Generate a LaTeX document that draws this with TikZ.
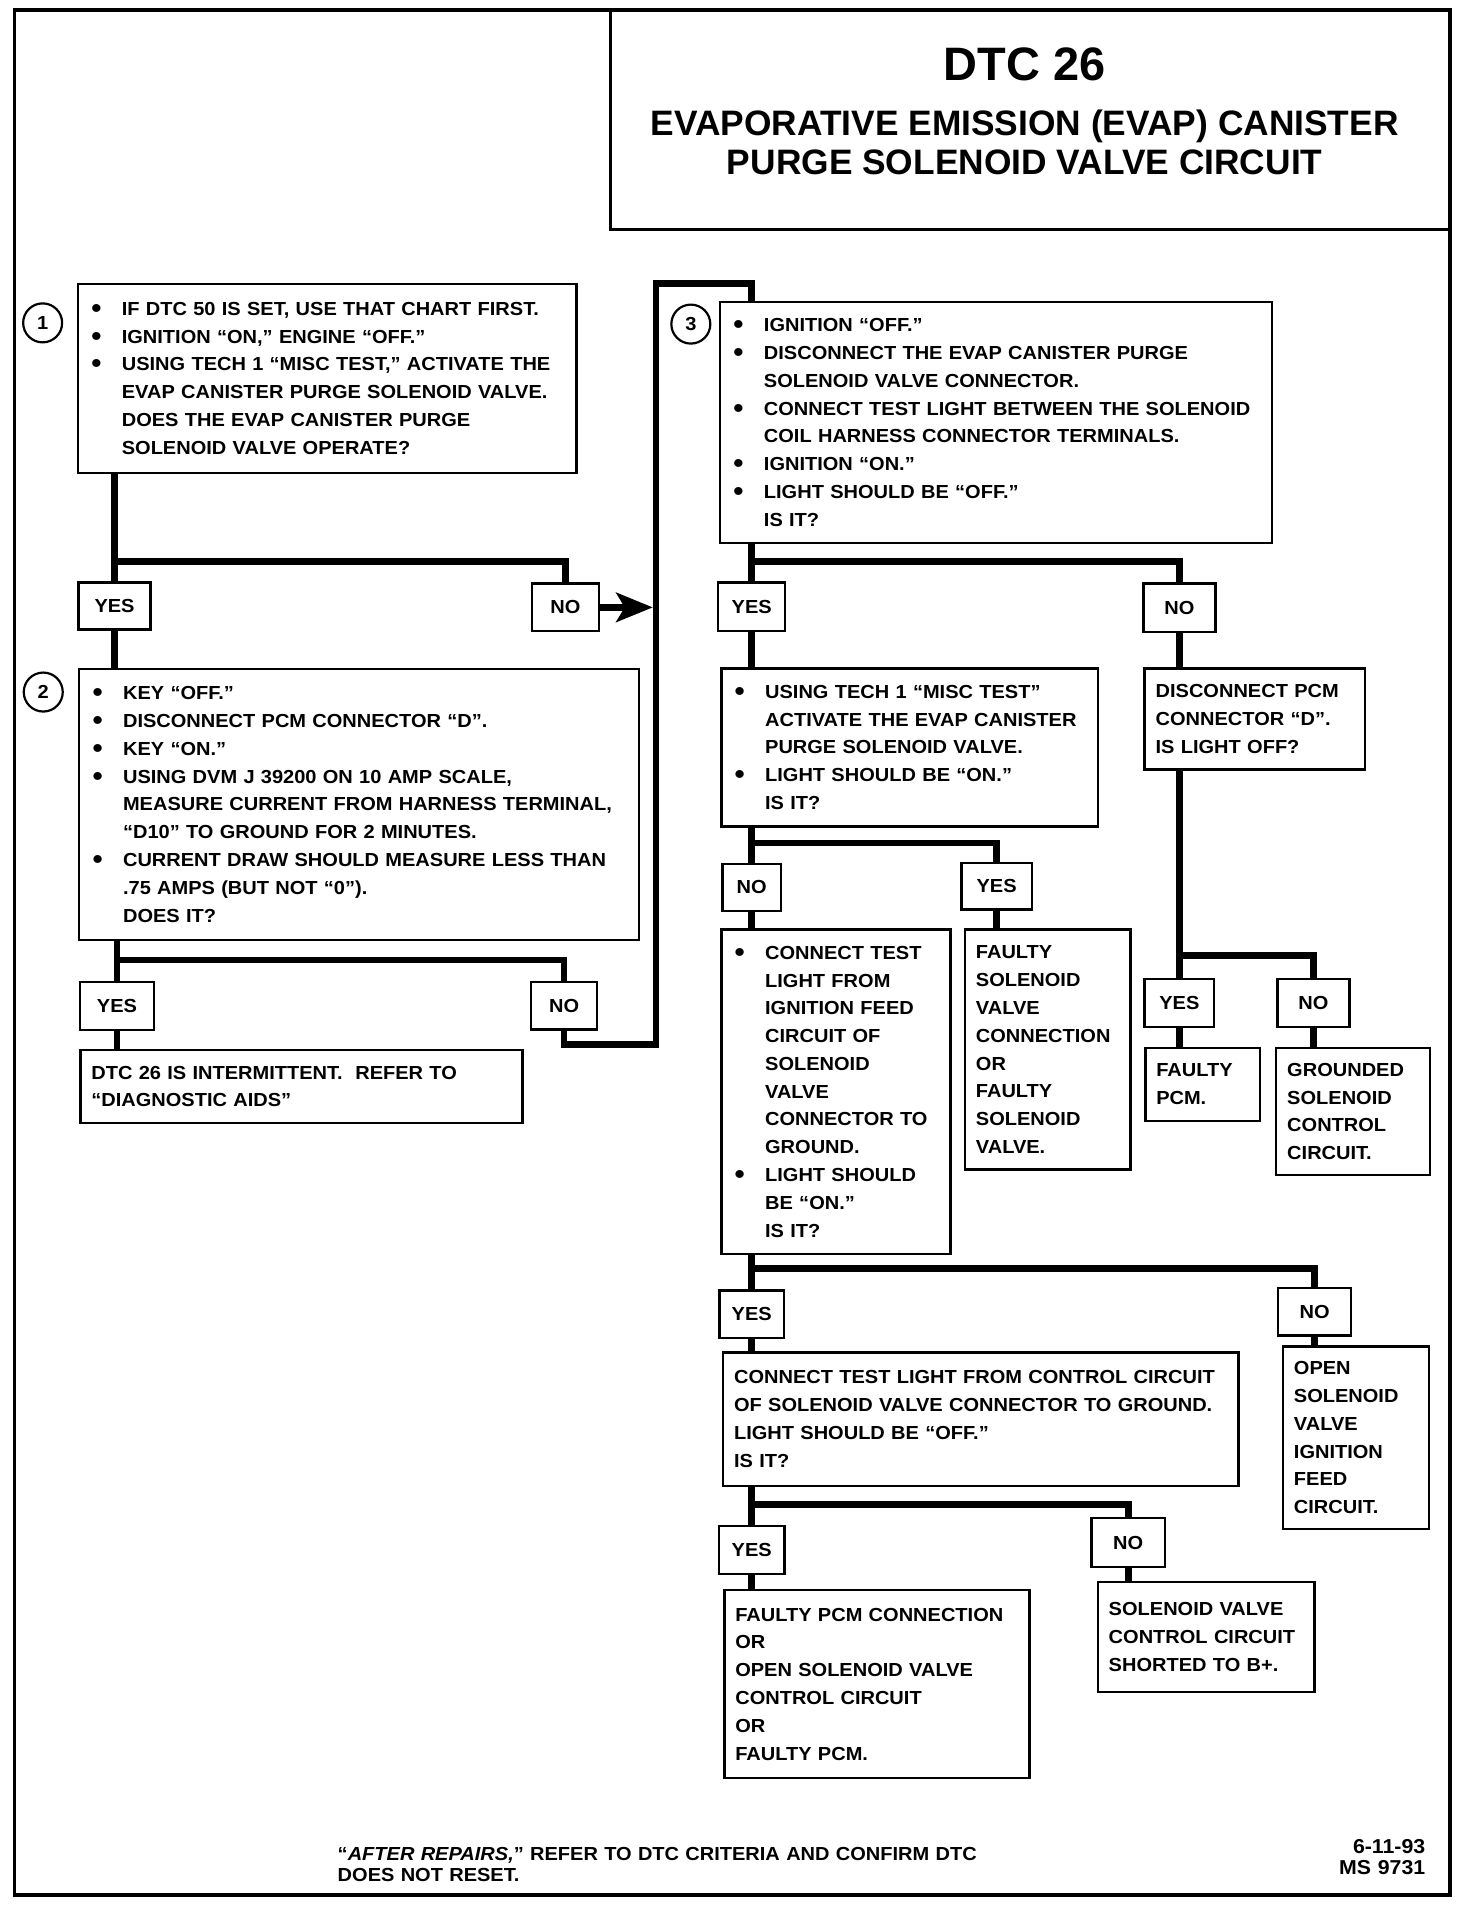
\documentclass[tikz,border=0pt]{standalone}
\usepackage{fontspec}
\setmainfont{Liberation Sans}[FakeStretch=1.06]
\newfontfamily\titlefont{Liberation Sans}
\usepackage{tikz}
\usetikzlibrary{arrows.meta}
\setlength{\parindent}{0pt}
\newcommand{\bline}[1]{\makebox[27pt][l]{\hspace{2pt}\raisebox{-1.6pt}{\scalebox{1.45}{\textbullet}}}\mbox{#1}}
\newcommand{\iline}[1]{\hspace*{27pt}\mbox{#1}}
\newcommand{\pline}[1]{\mbox{#1}}

\begin{document}
\begin{tikzpicture}[x=1pt, y=-1pt,
    txt/.style={font=\fontsize{15.5}{22.8}\selectfont\bfseries},
    box/.style={txt, draw, line width=2pt, anchor=north west, inner xsep=9pt, inner ysep=0pt, align=left},
    yn/.style={txt, draw, line width=2pt, anchor=north west, inner sep=0pt},
    num/.style={txt, circle, draw, line width=1.8pt, minimum size=32pt, inner sep=0pt},
    conn/.style={line width=5.5pt}]
    \useasboundingbox (0,0) rectangle (1208,1566);

    % Frame and title
    \draw[line width=3pt] (12,8) rectangle (1190,1555.5);
    \draw[line width=2.5pt] (501,8) rectangle (1190,188);
    \node[anchor=north, text width=680pt, align=center, inner sep=0pt] (title) at (841,39)
        {\titlefont\bfseries\fontsize{38.5}{38.5}\selectfont\spaceskip=0pt\xspaceskip=0pt \mbox{DTC 26}\par\vspace{12pt}
         \fontsize{29}{33}\selectfont\spaceskip=0pt\xspaceskip=0pt \mbox{EVAPORATIVE EMISSION (EVAP) CANISTER}\par\vspace{5pt}
         \mbox{PURGE SOLENOID VALVE CIRCUIT}};

    % Left column nodes
    \path
    (63,232) node[box, text width=391pt, minimum height=155pt] (q1)
        {\bline{IF DTC 50 IS SET, USE THAT CHART FIRST.}\\
         \bline{IGNITION “ON,” ENGINE “OFF.”}\\
         \bline{USING TECH 1 “MISC TEST,” ACTIVATE THE}\\
         \iline{EVAP CANISTER PURGE SOLENOID VALVE.}\\
         \iline{DOES THE EVAP CANISTER PURGE}\\
         \iline{SOLENOID VALVE OPERATE?}}
    (63.5,477) node[yn, minimum width=59pt, minimum height=38.5pt] (y1) {YES}
    (435.5,478) node[yn, minimum width=55pt, minimum height=39pt] (n1) {NO}
    (64,548) node[box, text width=441.5pt, minimum height=222.5pt] (q2)
        {\bline{KEY “OFF.”}\\
         \bline{DISCONNECT PCM CONNECTOR “D”.}\\
         \bline{KEY “ON.”}\\
         \bline{USING DVM J 39200 ON 10 AMP SCALE,}\\
         \iline{MEASURE CURRENT FROM HARNESS TERMINAL,}\\
         \iline{“D10” TO GROUND FOR 2 MINUTES.}\\
         \bline{CURRENT DRAW SHOULD MEASURE LESS THAN}\\
         \iline{.75 AMPS (BUT NOT “0”).}\\
         \iline{DOES IT?}}
    (64.5,805) node[yn, minimum width=61pt, minimum height=39.5pt] (y2) {YES}
    (435,805) node[yn, minimum width=54pt, minimum height=39pt] (n2) {NO}
    (65,861) node[box, text width=345pt, minimum height=59.5pt] (r1)
        {\pline{DTC 26 IS INTERMITTENT.\ \ REFER TO}\\
         \pline{“DIAGNOSTIC AIDS”}}
    ;

    % Step numbers
    \node[num] (c1) at (35,265) {1};
    \node[num] (c2) at (35.5,568) {2};
    \node[num] (c3) at (567,266) {3};

    % Right column nodes
    \path
    (590,247) node[box, text width=435pt, minimum height=197.5pt] (q3)
        {\bline{IGNITION “OFF.”}\\
         \bline{DISCONNECT THE EVAP CANISTER PURGE}\\
         \iline{SOLENOID VALVE CONNECTOR.}\\
         \bline{CONNECT TEST LIGHT BETWEEN THE SOLENOID}\\
         \iline{COIL HARNESS CONNECTOR TERMINALS.}\\
         \bline{IGNITION “ON.”}\\
         \bline{LIGHT SHOULD BE “OFF.”}\\
         \iline{IS IT?}}
    (588.5,477) node[yn, minimum width=55pt, minimum height=40pt] (y3) {YES}
    (937.5,478) node[yn, minimum width=59pt, minimum height=39.5pt] (n3) {NO}
    (591,547.5) node[box, text width=291pt, minimum height=130pt] (q4)
        {\bline{USING TECH 1 “MISC TEST”}\\
         \iline{ACTIVATE THE EVAP CANISTER}\\
         \iline{PURGE SOLENOID VALVE.}\\
         \bline{LIGHT SHOULD BE “ON.”}\\
         \iline{IS IT?}}
    (938.5,547.5) node[box, text width=163pt, minimum height=83pt] (q5)
        {\pline{DISCONNECT PCM}\\
         \pline{CONNECTOR “D”.}\\
         \pline{IS LIGHT OFF?}}
    (592,708) node[yn, minimum width=48pt, minimum height=38.5pt] (n4) {NO}
    (788,707.5) node[yn, minimum width=58pt, minimum height=38pt] (y4) {YES}
    (591,762) node[box, text width=170pt, minimum height=266pt] (q6)
        {\bline{CONNECT TEST}\\
         \iline{LIGHT FROM}\\
         \iline{IGNITION FEED}\\
         \iline{CIRCUIT OF}\\
         \iline{SOLENOID}\\
         \iline{VALVE}\\
         \iline{CONNECTOR TO}\\
         \iline{GROUND.}\\
         \bline{LIGHT SHOULD}\\
         \iline{BE “ON.”}\\
         \iline{IS IT?}}
    (791,762) node[box, text width=118pt, minimum height=197pt] (r2)
        {FAULTY\\ SOLENOID\\ VALVE\\ CONNECTION\\ OR\\ FAULTY\\ SOLENOID\\ VALVE.}
    (938.5,802.5) node[yn, minimum width=57pt, minimum height=39.5pt] (y5) {YES}
    (1047.5,802.5) node[yn, minimum width=59pt, minimum height=39.5pt] (n5) {NO}
    (939,859) node[box, text width=76pt, minimum height=60pt] (r3)
        {FAULTY\\ PCM.}
    (1046.5,859) node[box, text width=108pt, minimum height=104.5pt] (r4)
        {GROUNDED\\ SOLENOID\\ CONTROL\\ CIRCUIT.}
    (589.5,1058) node[yn, minimum width=53pt, minimum height=39pt] (y6) {YES}
    (1048,1056) node[yn, minimum width=60pt, minimum height=39pt] (n6) {NO}
    (1052,1104) node[box, text width=102pt, minimum height=150pt] (r5)
        {OPEN\\ SOLENOID\\ VALVE\\ IGNITION\\ FEED\\ CIRCUIT.}
    (592.5,1109) node[box, text width=405pt, minimum height=109.5pt] (q7)
        {\pline{CONNECT TEST LIGHT FROM CONTROL CIRCUIT}\\
         \pline{OF SOLENOID VALVE CONNECTOR TO GROUND.}\\
         \pline{LIGHT SHOULD BE “OFF.”}\\
         \pline{IS IT?}}
    (589,1251.5) node[yn, minimum width=54pt, minimum height=39.5pt] (y7) {YES}
    (895,1245) node[yn, minimum width=60pt, minimum height=40pt] (n7) {NO}
    (593.5,1304) node[box, text width=232.5pt, minimum height=154.5pt] (r6)
        {\pline{FAULTY PCM CONNECTION}\\ OR\\
         \pline{OPEN SOLENOID VALVE}\\
         \pline{CONTROL CIRCUIT}\\ OR\\
         \pline{FAULTY PCM.}}
    (900,1297.5) node[box, text width=160pt, minimum height=90pt] (r7)
        {\pline{SOLENOID VALVE}\\
         \pline{CONTROL CIRCUIT}\\
         \pline{SHORTED TO B+.}}
    ;

    % Footer
    \node[txt, font=\fontsize{15.5}{17.3}\selectfont\bfseries, anchor=north west, text width=560pt, align=left, inner sep=0pt] (foot) at (277,1516)
        {“\textit{AFTER REPAIRS,}” REFER TO DTC CRITERIA AND CONFIRM DTC\\ DOES NOT RESET.};
    \node[font=\fontsize{16.5}{17.5}\selectfont\bfseries, anchor=north east, text width=100pt, align=right, inner sep=0pt] (date) at (1170,1509.5)
        {6-11-93\\ MS 9731};

    % Bar heights and the long return line
    \coordinate (b1) at (0,461);
    \coordinate (b2) at (0,788);
    \coordinate (b3) at (0,461);
    \coordinate (b4) at (0,692);
    \coordinate (b5) at (0,784);
    \coordinate (b6) at (0,1041);
    \coordinate (b7) at (0,1235);
    \coordinate (railb) at (538.5,857.5);
    \coordinate (railt) at (538.5,232.5);
    \coordinate (nohit) at (535.8,0);

    % Step 1 edges
    \draw[conn] (q1.south -| y1.north) -- (y1.north);
    \draw[conn] (y1.north |- b1) -| (n1.north);
    \draw[conn] (y1.south) -- (q2.north -| y1.south);
    \draw[conn, -{Stealth[length=30pt, width=24pt, inset=7pt]}] (n1.east) -- (n1.east -| nohit);

    % Step 2 edges
    \draw[conn] (q2.south -| y2.north) -- (y2.north);
    \draw[conn] (y2.north |- b2) -| (n2.north);
    \draw[conn] (y2.south) -- (r1.north -| y2.south);
    \draw[conn] (n2.south) |- (railb) -- (railt) -| (q3.north -| y3.north);

    % Step 3 edges
    \draw[conn] (q3.south -| y3.north) -- (y3.north);
    \draw[conn] (y3.north |- b3) -| (n3.north);
    \draw[conn] (y3.south) -- (q4.north -| y3.south);
    \draw[conn] (n3.south) -- (q5.north -| n3.south);

    % Tech 1 test edges
    \draw[conn] (q4.south -| n4.north) -- (n4.north);
    \draw[conn] (n4.north |- b4) -| (y4.north);
    \draw[conn] (n4.south) -- (q6.north -| n4.south);
    \draw[conn] (y4.south) -- (r2.north -| y4.south);

    % PCM connector edges
    \draw[conn] (q5.south -| y5.north) -- (y5.north);
    \draw[conn] (y5.north |- b5) -| (n5.north);
    \draw[conn] (y5.south) -- (r3.north -| y5.south);
    \draw[conn] (n5.south) -- (r4.north -| n5.south);

    % Ignition feed edges
    \draw[conn] (q6.south -| y6.north) -- (y6.north);
    \draw[conn] (y6.north |- b6) -| (n6.north);
    \draw[conn] (y6.south) -- (q7.north -| y6.south);
    \draw[conn] (n6.south) -- (r5.north -| n6.south);

    % Control circuit edges
    \draw[conn] (q7.south -| y7.north) -- (y7.north);
    \draw[conn] (y7.north |- b7) -| (n7.north);
    \draw[conn] (y7.south) -- (r6.north -| y7.south);
    \draw[conn] (n7.south) -- (r7.north -| n7.south);

\end{tikzpicture}
\end{document}
